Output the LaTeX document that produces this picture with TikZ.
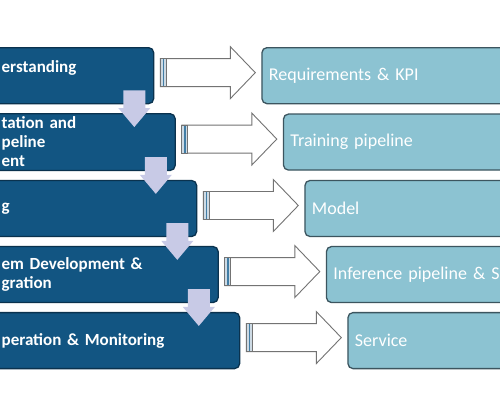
\documentclass[tikz,border=0pt]{standalone}
\usepackage{fontspec}
\setmainfont{Carlito}
\usepackage{tikz}
\usetikzlibrary{positioning,calc}
\definecolor{darkblue}{RGB}{18,85,130}
\definecolor{darkedge}{RGB}{10,50,78}
\definecolor{paleblue}{RGB}{140,195,210}
\definecolor{paleedge}{RGB}{60,85,95}
\definecolor{lavender}{RGB}{200,202,230}
\definecolor{arrowgray}{RGB}{115,115,115}
\definecolor{barblue}{RGB}{65,125,165}
\definecolor{barfill}{RGB}{205,218,228}
\tikzstyle{lbox}=[%
      rectangle, rounded corners=5pt, draw=darkedge, line width=1.3pt, fill=darkblue,
      text=white, font=\bfseries\fontsize{17}{19}\selectfont, align=left,
      minimum height=56pt, inner xsep=13pt, anchor=north west
]
\tikzstyle{rbox}=[%
      rectangle, rounded corners=5pt, draw=paleedge, line width=1.3pt, fill=paleblue,
      text=white, font=\fontsize{18}{20}\selectfont, align=left,
      minimum height=56pt, inner xsep=7pt, text width=266pt
]
\tikzstyle{tailbar}=[%
      rectangle, draw=arrowgray, line width=0.8pt, fill=barfill, inner sep=0pt,
      minimum width=6pt, minimum height=28pt,
      path picture={\draw[barblue, line width=1.4pt] (path picture bounding box.north) -- (path picture bounding box.south);}
]
\tikzstyle{hollow}=[%
      draw=arrowgray, fill=white, line width=0.9pt, line join=miter,
      to path={let \p1=($(\tikztostart.east)+(6,-3)$), \p2=($(\tikztotarget.west)+(-6,-3)$) in
        (\x1,\y1-14) -- (\x2-25,\y1-14) -- (\x2-25,\y1-26) -- (\x2,\y1)
        -- (\x2-25,\y1+26) -- (\x2-25,\y1+14) -- (\x1,\y1+14) -- cycle
        node[tailbar] at (\x1+3,\y1) {}}
]
\tikzstyle{downarrow}=[%
      draw=none, fill=lavender,
      to path={let \p1=(\tikztostart.south east), \p2=(\tikztotarget.north east) in
        (\x1-31,\y1+14) -- (\x1-9,\y1+14) -- (\x1-9,\y2+5) -- (\x1-4,\y2+5)
        -- (\x1-20,\y2-14) -- (\x1-36,\y2+5) -- (\x1-31,\y2+5) -- cycle}
]
\begin{document}
\begin{tikzpicture}[x=1pt, y=-1pt]
    \clip (0,0) rectangle (500,400);
    \fill[white] (0,0) rectangle (500,400);

    % steps
    \node[lbox, text width=139pt, text depth=18pt] (L1) at (-12,47) {erstanding};
    \node[lbox, text width=160.5pt, below=8.75pt of L1.south west, anchor=north west] (L2) {tation and\\peline\\ent};
    \node[lbox, text width=182pt, below=8.75pt of L2.south west, anchor=north west] (L3) {g};
    \node[lbox, text width=203.5pt, below=8.75pt of L3.south west, anchor=north west] (L4) {em Development \&\\gration};
    \node[lbox, text width=225pt, below=8.75pt of L4.south west, anchor=north west] (L5) {peration \& Monitoring};

    % outputs
    \node[rbox, right=107pt of L1] (R1) {Requirements \& KPI};
    \node[rbox, right=107pt of L2] (R2) {Training pipeline};
    \node[rbox, right=107pt of L3] (R3) {Model};
    \node[rbox, right=107pt of L4] (R4) {Inference pipeline \& S};
    \node[rbox, right=107pt of L5] (R5) {Service};

    \path (L1) edge[downarrow] (L2)
          (L2) edge[downarrow] (L3)
          (L3) edge[downarrow] (L4)
          (L4) edge[downarrow] (L5)
    ;
    \path (L1) edge[hollow] (R1)
          (L2) edge[hollow] (R2)
          (L3) edge[hollow] (R3)
          (L4) edge[hollow] (R4)
          (L5) edge[hollow] (R5)
    ;
\end{tikzpicture}
\end{document}
